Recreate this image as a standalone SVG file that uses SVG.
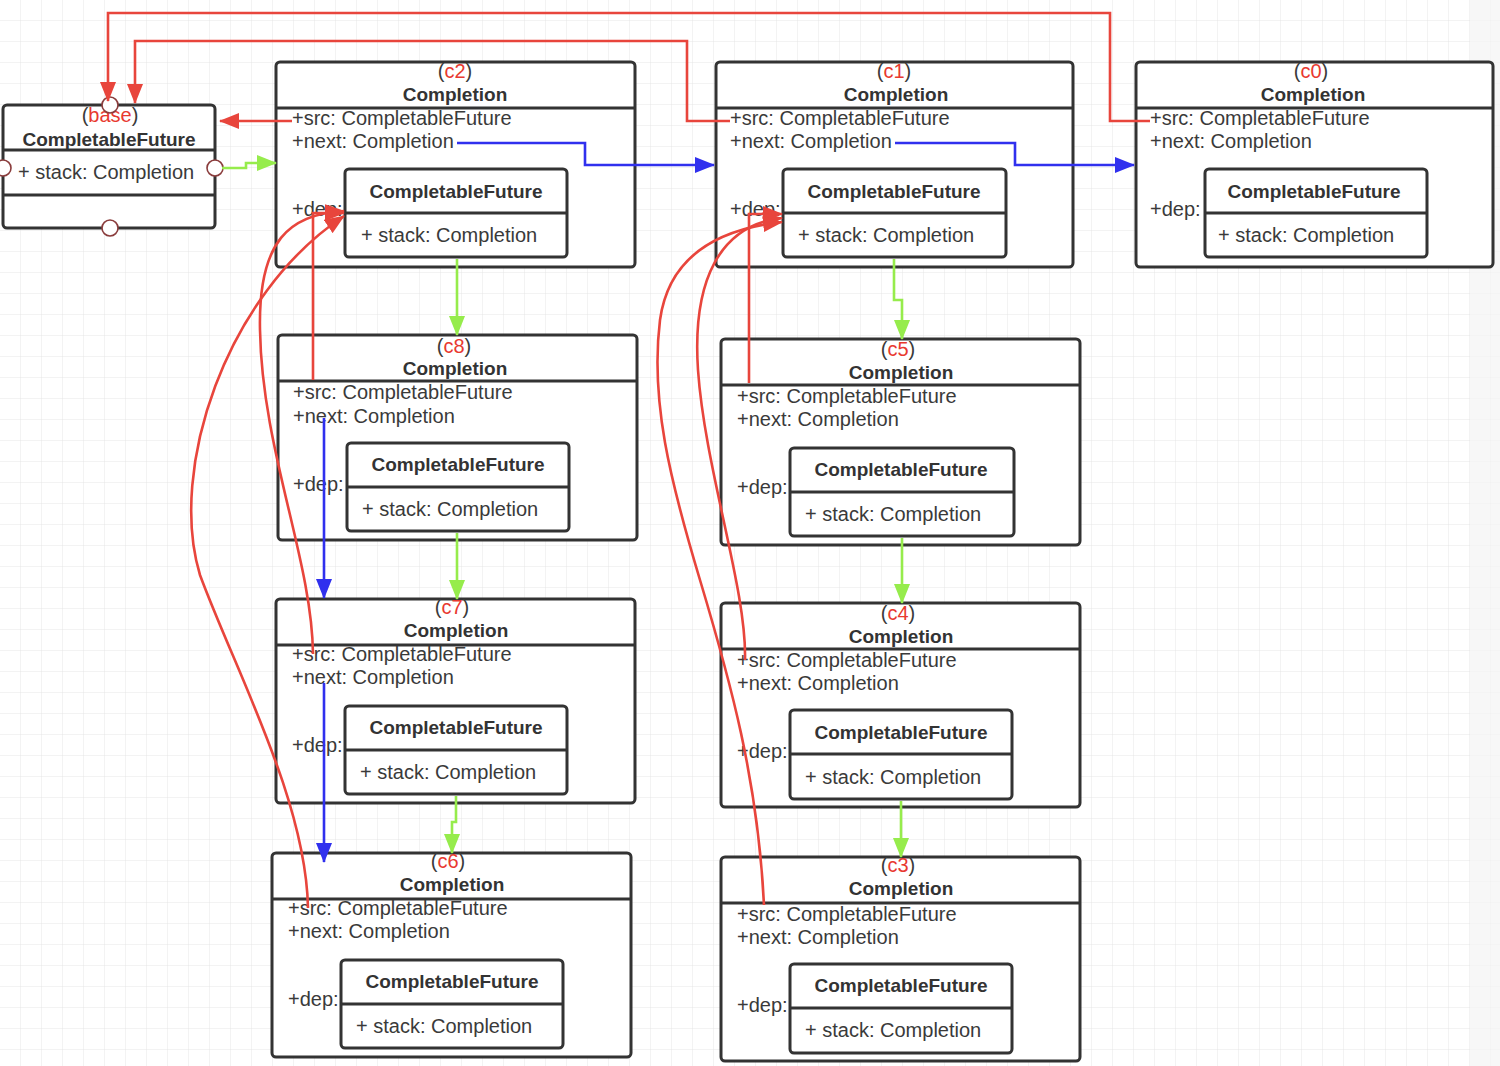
<svg xmlns="http://www.w3.org/2000/svg" width="1500" height="1066" viewBox="0 0 1500 1066">
<style>
  text { font-family: "Liberation Sans", Arial, sans-serif; font-size: 20px; fill: #3a3a3a; }
  .b { font-weight: bold; font-size: 19px; fill: #333; }
  .m { text-anchor: middle; }
  .lab { fill: #e8392f; }
  .box { fill: #fff; stroke: #333; stroke-width: 3; }
  .div { stroke: #333; stroke-width: 3; fill: none; }
  .port { fill: #fff; stroke: #8a3c3c; stroke-width: 1.6; }
  .red { fill: none; stroke: #e8453c; stroke-width: 2.6; marker-end: url(#ar); }
  .grn { fill: none; stroke: #96ec4c; stroke-width: 2.6; marker-end: url(#ag); }
  .blu { fill: none; stroke: #3030ee; stroke-width: 2.6; marker-end: url(#ab); }
</style>
<defs>
  <pattern id="grid" width="21" height="21" patternUnits="userSpaceOnUse">
    <path d="M21,0 V21 H0" fill="none" stroke="#e6e6e6" stroke-width="1"/>
  </pattern>
  <marker id="ar" viewBox="0 0 20 16" markerWidth="20" markerHeight="16" refX="19" refY="8" orient="auto" markerUnits="userSpaceOnUse"><path d="M0,0 L20,8 L0,16 z" fill="#e8453c"/></marker>
  <marker id="ag" viewBox="0 0 20 16" markerWidth="20" markerHeight="16" refX="19" refY="8" orient="auto" markerUnits="userSpaceOnUse"><path d="M0,0 L20,8 L0,16 z" fill="#96ec4c"/></marker>
  <marker id="ab" viewBox="0 0 20 16" markerWidth="20" markerHeight="16" refX="19" refY="8" orient="auto" markerUnits="userSpaceOnUse"><path d="M0,0 L20,8 L0,16 z" fill="#3030ee"/></marker>
</defs>
<rect width="1500" height="1066" fill="#fff"/>
<rect width="1500" height="1066" fill="url(#grid)"/>
<rect x="1470" y="0" width="30" height="1066" fill="#f3f3f3" opacity="0.7"/>

<g id="base">
  <rect class="box" x="3" y="105" width="212" height="123" rx="4"/>
  <line class="div" x1="3" y1="150" x2="215" y2="150"/>
  <line class="div" x1="3" y1="195" x2="215" y2="195"/>
  <text class="m" x="110" y="122">(<tspan class="lab">base</tspan>)</text>
  <text class="b m" x="109" y="146">CompletableFuture</text>
  <text x="18" y="179">+ stack: Completion</text>
  <circle class="port" cx="110" cy="105" r="8"/>
  <circle class="port" cx="3" cy="168" r="8"/>
  <circle class="port" cx="215" cy="168" r="8"/>
  <circle class="port" cx="110" cy="228" r="8"/>
</g>

<g id="c2" transform="translate(276,62)">
  <rect class="box" x="0" y="0" width="359" height="205" rx="4"/>
  <line class="div" x1="0" y1="46" x2="359" y2="46"/>
  <text class="m" x="179" y="16">(<tspan class="lab">c2</tspan>)</text>
  <text class="b m" x="179" y="39">Completion</text>
  <text x="16" y="63">+src: CompletableFuture</text>
  <text x="16" y="86">+next: Completion</text>
  <text x="16" y="154">+dep:</text>
  <rect class="box" x="69" y="107" width="222" height="88" rx="4"/>
  <line class="div" x1="69" y1="151" x2="291" y2="151"/>
  <text class="b m" x="180" y="136">CompletableFuture</text>
  <text x="85" y="180">+ stack: Completion</text>
</g>

<g id="c1" transform="translate(716,62)">
  <rect class="box" x="0" y="0" width="357" height="205" rx="4"/>
  <line class="div" x1="0" y1="46" x2="357" y2="46"/>
  <text class="m" x="178" y="16">(<tspan class="lab">c1</tspan>)</text>
  <text class="b m" x="180" y="39">Completion</text>
  <text x="14" y="63">+src: CompletableFuture</text>
  <text x="14" y="86">+next: Completion</text>
  <text x="14" y="154">+dep:</text>
  <rect class="box" x="67" y="107" width="223" height="88" rx="4"/>
  <line class="div" x1="67" y1="151" x2="290" y2="151"/>
  <text class="b m" x="178" y="136">CompletableFuture</text>
  <text x="82" y="180">+ stack: Completion</text>
</g>

<g id="c0" transform="translate(1136,62)">
  <rect class="box" x="0" y="0" width="357" height="205" rx="4"/>
  <line class="div" x1="0" y1="46" x2="357" y2="46"/>
  <text class="m" x="175" y="16">(<tspan class="lab">c0</tspan>)</text>
  <text class="b m" x="177" y="39">Completion</text>
  <text x="14" y="63">+src: CompletableFuture</text>
  <text x="14" y="86">+next: Completion</text>
  <text x="14" y="154">+dep:</text>
  <rect class="box" x="69" y="107" width="222" height="88" rx="4"/>
  <line class="div" x1="69" y1="151" x2="291" y2="151"/>
  <text class="b m" x="178" y="136">CompletableFuture</text>
  <text x="82" y="180">+ stack: Completion</text>
</g>

<g id="c8" transform="translate(278,335)">
  <rect class="box" x="0" y="0" width="359" height="205" rx="4"/>
  <line class="div" x1="0" y1="46" x2="359" y2="46"/>
  <text class="m" x="176" y="18">(<tspan class="lab">c8</tspan>)</text>
  <text class="b m" x="177" y="40">Completion</text>
  <text x="15" y="64">+src: CompletableFuture</text>
  <text x="15" y="88">+next: Completion</text>
  <text x="15" y="156">+dep:</text>
  <rect class="box" x="69" y="108" width="222" height="88" rx="4"/>
  <line class="div" x1="69" y1="152" x2="291" y2="152"/>
  <text class="b m" x="180" y="136">CompletableFuture</text>
  <text x="84" y="181">+ stack: Completion</text>
</g>

<g id="c5" transform="translate(721,339)">
  <rect class="box" x="0" y="0" width="359" height="206" rx="4"/>
  <line class="div" x1="0" y1="46" x2="359" y2="46"/>
  <text class="m" x="177" y="17">(<tspan class="lab">c5</tspan>)</text>
  <text class="b m" x="180" y="40">Completion</text>
  <text x="16" y="64">+src: CompletableFuture</text>
  <text x="16" y="87">+next: Completion</text>
  <text x="16" y="155">+dep:</text>
  <rect class="box" x="69" y="109" width="224" height="88" rx="4"/>
  <line class="div" x1="69" y1="153" x2="293" y2="153"/>
  <text class="b m" x="180" y="137">CompletableFuture</text>
  <text x="84" y="182">+ stack: Completion</text>
</g>

<g id="c7" transform="translate(276,599)">
  <rect class="box" x="0" y="0" width="359" height="204" rx="4"/>
  <line class="div" x1="0" y1="46" x2="359" y2="46"/>
  <text class="m" x="176" y="15">(<tspan class="lab">c7</tspan>)</text>
  <text class="b m" x="180" y="38">Completion</text>
  <text x="16" y="62">+src: CompletableFuture</text>
  <text x="16" y="85">+next: Completion</text>
  <text x="16" y="153">+dep:</text>
  <rect class="box" x="69" y="107" width="222" height="88" rx="4"/>
  <line class="div" x1="69" y1="151" x2="291" y2="151"/>
  <text class="b m" x="180" y="135">CompletableFuture</text>
  <text x="84" y="180">+ stack: Completion</text>
</g>

<g id="c4" transform="translate(721,603)">
  <rect class="box" x="0" y="0" width="359" height="204" rx="4"/>
  <line class="div" x1="0" y1="46" x2="359" y2="46"/>
  <text class="m" x="177" y="17">(<tspan class="lab">c4</tspan>)</text>
  <text class="b m" x="180" y="40">Completion</text>
  <text x="16" y="64">+src: CompletableFuture</text>
  <text x="16" y="87">+next: Completion</text>
  <text x="16" y="155">+dep:</text>
  <rect class="box" x="69" y="107" width="222" height="89" rx="4"/>
  <line class="div" x1="69" y1="151" x2="291" y2="151"/>
  <text class="b m" x="180" y="136">CompletableFuture</text>
  <text x="84" y="181">+ stack: Completion</text>
</g>

<g id="c6" transform="translate(272,853)">
  <rect class="box" x="0" y="0" width="359" height="204" rx="4"/>
  <line class="div" x1="0" y1="46" x2="359" y2="46"/>
  <text class="m" x="176" y="15">(<tspan class="lab">c6</tspan>)</text>
  <text class="b m" x="180" y="38">Completion</text>
  <text x="16" y="62">+src: CompletableFuture</text>
  <text x="16" y="85">+next: Completion</text>
  <text x="16" y="153">+dep:</text>
  <rect class="box" x="69" y="107" width="222" height="88" rx="4"/>
  <line class="div" x1="69" y1="151" x2="291" y2="151"/>
  <text class="b m" x="180" y="135">CompletableFuture</text>
  <text x="84" y="180">+ stack: Completion</text>
</g>

<g id="c3" transform="translate(721,857)">
  <rect class="box" x="0" y="0" width="359" height="204" rx="4"/>
  <line class="div" x1="0" y1="46" x2="359" y2="46"/>
  <text class="m" x="177" y="15">(<tspan class="lab">c3</tspan>)</text>
  <text class="b m" x="180" y="38">Completion</text>
  <text x="16" y="64">+src: CompletableFuture</text>
  <text x="16" y="87">+next: Completion</text>
  <text x="16" y="155">+dep:</text>
  <rect class="box" x="69" y="107" width="222" height="89" rx="4"/>
  <line class="div" x1="69" y1="151" x2="291" y2="151"/>
  <text class="b m" x="180" y="135">CompletableFuture</text>
  <text x="84" y="180">+ stack: Completion</text>
</g>

<g id="connectors">
  <path class="red" d="M1150,121 H1110 V13 H108 V101"/>
  <path class="red" d="M730,121 H687 V41 H135 V103"/>
  <path class="red" d="M292,121 H220"/>
  <path class="red" d="M313,380 V213 H344"/>
  <path class="red" d="M313,654 C312,560 262,450 260,330 C258,240 290,214 344,211"/>
  <path class="red" d="M308,908 C306,800 235,670 200,575 C168,470 225,295 344,216"/>
  <path class="red" d="M749,383 V214 H782"/>
  <path class="red" d="M745,660 C747,590 705,470 698,370 C692,280 720,225 782,218"/>
  <path class="red" d="M764,905 C758,780 730,680 700,580 C670,480 650,400 660,320 C668,262 710,230 782,222"/>

  <path class="grn" d="M222,168 H246 V163 H276"/>
  <path class="grn" d="M457,259 V335"/>
  <path class="grn" d="M457,533 V599"/>
  <path class="grn" d="M456,796 V822 H452 V853"/>
  <path class="grn" d="M894,259 V300 H902 V339"/>
  <path class="grn" d="M902,538 V603"/>
  <path class="grn" d="M901,801 V857"/>

  <path class="blu" d="M457,143 H585 V165 H714"/>
  <path class="blu" d="M895,143 H1015 V165 H1134"/>
  <path class="blu" d="M324,418 V598"/>
  <path class="blu" d="M324,683 V862"/>
</g>
</svg>
